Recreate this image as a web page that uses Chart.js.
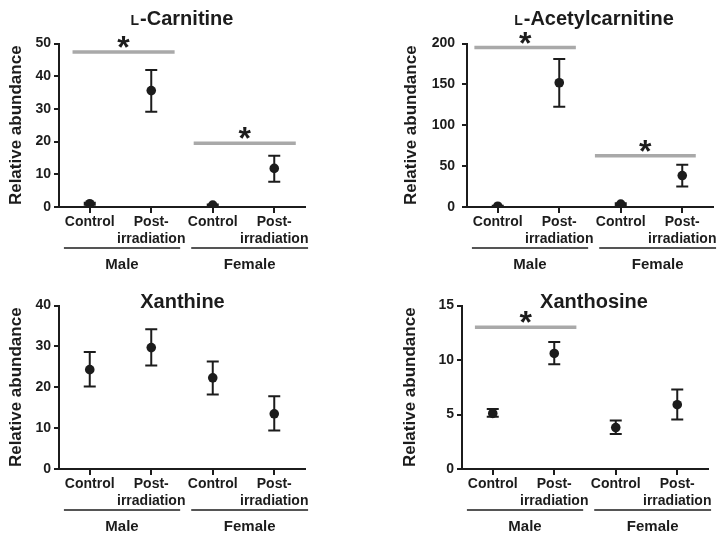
<!DOCTYPE html>
<html><head><meta charset="utf-8">
<script src="https://cdn.jsdelivr.net/npm/chart.js@4/dist/chart.umd.min.js"></script>
<style>
html,body{margin:0;padding:0;background:#fff;width:726px;height:542px;overflow:hidden}
canvas{position:absolute}
</style></head><body>
<canvas id="c1" width="363" height="285" style="left:0;top:0"></canvas>
<canvas id="c2" width="363" height="285" style="left:363px;top:0"></canvas>
<canvas id="c3" width="363" height="271" style="left:0;top:271px"></canvas>
<canvas id="c4" width="363" height="271" style="left:363px;top:271px"></canvas>
<script>
// ---- data ----
const xLabels = [["Control"], ["Post-", "irradiation"], ["Control"], ["Post-", "irradiation"]];
const groupLabels = ["Male", "Female"];
const yTitle = "Relative abundance";

const carnitineMean = [1.0, 35.6, 0.6, 11.8];
const carnitineLow  = [0.7, 29.1, 0.4, 7.7];
const carnitineHigh = [1.3, 41.9, 0.8, 15.7];
const carnitineTicks = [0, 10, 20, 30, 40, 50];
const carnitineSig = [[-0.28, 1.38, 47.4], [1.69, 3.35, 19.5]];

const acetylMean = [1.0, 152, 3.5, 38.5];
const acetylLow  = [0.5, 122.7, 2.5, 25];
const acetylHigh = [1.5, 181, 4.5, 51.6];
const acetylTicks = [0, 50, 100, 150, 200];
const acetylSig = [[-0.38, 1.27, 195], [1.58, 3.22, 62.6]];

const xanthineMean = [24.3, 29.7, 22.3, 13.5];
const xanthineLow  = [20.2, 25.3, 18.2, 9.4];
const xanthineHigh = [28.6, 34.2, 26.3, 17.8];
const xanthineTicks = [0, 10, 20, 30, 40];
const xanthineSig = [];

const xanthosineMean = [5.1, 10.6, 3.8, 5.9];
const xanthosineLow  = [4.8, 9.6, 3.2, 4.55];
const xanthosineHigh = [5.5, 11.65, 4.45, 7.3];
const xanthosineTicks = [0, 5, 10, 15];
const xanthosineSig = [[-0.29, 1.36, 13.0]];

const groupSpans = [[-0.42, 1.47], [1.65, 3.55]];

// ---- styling ----
const FONT = '"Liberation Sans", Arial, Helvetica, sans-serif';
const INK = '#1c1c1c';

const errorBars = {
  id: 'errorBars',
  beforeDatasetsDraw(chart, args, o) {
    const {ctx, scales: {x, y}} = chart;
    ctx.save();
    ctx.strokeStyle = INK; ctx.lineWidth = 2;
    o.low.forEach((lo, i) => {
      const px = x.getPixelForValue(i);
      const yl = y.getPixelForValue(lo), yh = y.getPixelForValue(o.high[i]);
      ctx.beginPath();
      ctx.moveTo(px, yl); ctx.lineTo(px, yh);
      ctx.moveTo(px - 6, yl); ctx.lineTo(px + 6, yl);
      ctx.moveTo(px - 6, yh); ctx.lineTo(px + 6, yh);
      ctx.stroke();
    });
    ctx.restore();
  }
};

const deco = {
  id: 'deco',
  afterDraw(chart, args, o) {
    const {ctx, chartArea: ca, scales: {x, y}} = chart;
    ctx.save();
    ctx.fillStyle = INK;
    ctx.textBaseline = 'alphabetic';
    ctx.textAlign = 'left';
    // title (with small-cap prefix)
    const small = 'bold 14px ' + FONT, big = 'bold 20px ' + FONT;
    let w1 = 0;
    if (o.prefix) { ctx.font = small; w1 = ctx.measureText(o.prefix).width + 1; }
    ctx.font = big;
    const w2 = ctx.measureText(o.title).width;
    let x0 = o.titleX - (w1 + w2) / 2;
    if (o.prefix) { ctx.font = small; ctx.fillText(o.prefix, x0, o.titleBase); }
    ctx.font = big;
    ctx.fillText(o.title, x0 + w1, o.titleBase);
    // asterisks above significance bars
    ctx.textAlign = 'center';
    ctx.font = 'bold 32px ' + FONT;
    o.sig.forEach(s => {
      const cx = x.getPixelForValue((s[0] + s[1]) / 2);
      const by = y.getPixelForValue(s[2]);
      ctx.fillText('*', cx, by + 6);
    });
    // group underlines and labels
    ctx.strokeStyle = INK; ctx.lineWidth = 1.5;
    ctx.font = 'bold 15px ' + FONT;
    ctx.textBaseline = 'middle';
    groupSpans.forEach((g, i) => {
      const a = x.getPixelForValue(g[0]), b = x.getPixelForValue(g[1]);
      const ly = ca.bottom + 41;
      ctx.beginPath(); ctx.moveTo(a, ly); ctx.lineTo(b, ly); ctx.stroke();
      ctx.fillText(groupLabels[i], (a + b) / 2, ca.bottom + 58);
    });
    ctx.restore();
  }
};

function makeChart(id, c) {
  const canvas = document.getElementById(id);
  const W = canvas.width, H = canvas.height;
  const xH = 60;
  const datasets = [{
    data: c.mean.map((v, i) => ({x: i, y: v})),
    pointRadius: 4.8, pointBackgroundColor: INK, pointBorderWidth: 0, showLine: false
  }].concat(c.sig.map(s => ({
    data: [{x: s[0], y: s[2]}, {x: s[1], y: s[2]}],
    showLine: true, borderColor: '#a9a9a9', borderWidth: 3.5, pointRadius: 0, borderCapStyle: 'butt'
  })));
  new Chart(canvas, {
    type: 'scatter',
    data: {datasets},
    options: {
      responsive: false, animation: false, events: [],
      layout: {padding: {left: 0, top: c.T, right: W - c.R, bottom: H - c.B - xH}},
      plugins: {
        legend: {display: false}, tooltip: {enabled: false}, title: {display: false},
        errorBars: {low: c.low, high: c.high},
        deco: {prefix: c.prefix, title: c.title, titleX: c.titleX, titleBase: c.titleBase, sig: c.sig}
      },
      scales: {
        x: {
          type: 'linear', min: -0.5, max: 3.5,
          afterBuildTicks: s => { s.ticks = [0, 1, 2, 3].map(v => ({value: v})); },
          afterFit: s => { s.height = xH; },
          ticks: {callback: v => xLabels[v], font: {family: FONT, size: 14, weight: 'bold'}, color: INK, padding: 1, maxRotation: 0, autoSkip: false},
          grid: {display: true, drawOnChartArea: false, drawTicks: true, tickLength: 6, lineWidth: 2, color: INK},
          border: {display: true, width: 2, color: INK}
        },
        y: {
          min: 0, max: c.yTicks[c.yTicks.length - 1],
          afterBuildTicks: s => { s.ticks = c.yTicks.map(v => ({value: v})); },
          afterFit: s => { s.width = c.L; },
          ticks: {font: {family: FONT, size: 14, weight: 'bold'}, color: INK, padding: c.tickPad},
          grid: {display: true, drawOnChartArea: false, drawTicks: true, tickLength: 5, lineWidth: 2, color: INK},
          border: {display: true, width: 2, color: INK},
          title: {display: true, text: yTitle, color: INK, font: {family: FONT, size: 17, weight: 'bold'}, padding: {top: c.yTitlePad, bottom: 0}}
        }
      }
    },
    plugins: [errorBars, deco]
  });
}

makeChart('c1', {mean: carnitineMean, low: carnitineLow, high: carnitineHigh, yTicks: carnitineTicks, sig: carnitineSig,
  prefix: 'L', title: '-Carnitine', titleX: 182, titleBase: 25, L: 59, R: 305, T: 43.5, B: 207, yTitlePad: 6.3, tickPad: 3});
makeChart('c2', {mean: acetylMean, low: acetylLow, high: acetylHigh, yTicks: acetylTicks, sig: acetylSig,
  prefix: 'L', title: '-Acetylcarnitine', titleX: 231, titleBase: 24.5, L: 104, R: 350, T: 43.5, B: 207, yTitlePad: 37.8, tickPad: 7});
makeChart('c3', {mean: xanthineMean, low: xanthineLow, high: xanthineHigh, yTicks: xanthineTicks, sig: xanthineSig,
  prefix: '', title: 'Xanthine', titleX: 182.5, titleBase: 36.7, L: 59, R: 305, T: 34.5, B: 198, yTitlePad: 6.3, tickPad: 3});
makeChart('c4', {mean: xanthosineMean, low: xanthosineLow, high: xanthosineHigh, yTicks: xanthosineTicks, sig: xanthosineSig,
  prefix: '', title: 'Xanthosine', titleX: 231, titleBase: 36.7, L: 99, R: 345, T: 34.5, B: 198, yTitlePad: 37.6, tickPad: 3});
</script>
</body></html>
